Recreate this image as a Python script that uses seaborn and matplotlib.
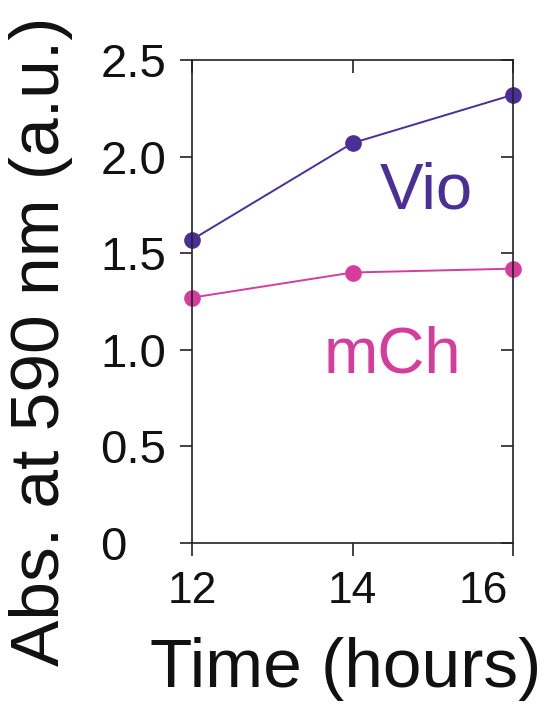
import matplotlib
matplotlib.use("Agg")
import matplotlib.pyplot as plt
import matplotlib.transforms as mtransforms
import seaborn as sns
import pandas as pd

hours = [12, 14, 16]
vio = [1.57, 2.07, 2.32]
mch = [1.27, 1.40, 1.42]
series_names = ["Vio", "mCh"]
yticks = [0, 0.5, 1.0, 1.5, 2.0, 2.5]
ytick_labels = ["0", "0.5", "1.0", "1.5", "2.0", "2.5"]
xticks = [12, 14, 16]

df = pd.DataFrame({
    "hours": hours * 2,
    "abs": vio + mch,
    "series": [series_names[0]] * 3 + [series_names[1]] * 3,
})

sns.set_style("white")
plt.rcParams["font.family"] = ["Liberation Sans", "DejaVu Sans"]

colors = {"Vio": "#4a2f96", "mCh": "#d53d9c"}

fig = plt.figure(figsize=(5.47, 7.04), dpi=100)
ax = fig.add_axes([0.351, 0.2287, 0.587, 0.6861])

sns.lineplot(data=df, x="hours", y="abs", hue="series", palette=colors,
             marker="o", markersize=12, markeredgewidth=0, linewidth=1.4,
             legend=False, ax=ax, clip_on=False)

ax.set_xlim(12, 16)
ax.set_ylim(0, 2.5)
ax.set_xticks(xticks)
ax.set_xticklabels([str(x) for x in xticks])
ax.set_yticks(yticks)
ax.set_yticklabels(ytick_labels)

for s in ax.spines.values():
    s.set_visible(True)
    s.set_color("#222222")
    s.set_linewidth(1.2)

ax.tick_params(axis="both", which="major", direction="out", length=9,
               width=1.2, color="#222222", labelcolor="#111111",
               left=True, bottom=True, top=True, right=True)
ax.tick_params(axis="x", pad=11, labelsize=32)
ax.tick_params(axis="y", pad=57, labelsize=34)
# mirrored ticks on top/right point inward
for t in ax.xaxis.get_major_ticks():
    t.tick2line.set_marker(matplotlib.lines.TICKDOWN)
for t in ax.yaxis.get_major_ticks():
    t.tick2line.set_marker(matplotlib.lines.TICKLEFT)
for lab in ax.get_yticklabels():
    lab.set_horizontalalignment("left")
last = ax.get_xticklabels()[-1]
last.set_transform(last.get_transform() +
                   mtransforms.ScaledTranslation(-0.30, 0, fig.dpi_scale_trans))

ax.set_xlabel("Time (hours)", fontsize=50, color="#111111", labelpad=0)
ax.xaxis.set_label_coords(0.48, -0.195)
ax.set_ylabel("Abs. at 590 nm (a.u.)", fontsize=50, color="#111111")
ax.yaxis.set_label_coords(-0.37, 0.417)

ax.text(14.92, 1.82, "Vio", color=colors["Vio"], fontsize=47, ha="center", va="center")
ax.text(14.50, 0.97, "mCh", color=colors["mCh"], fontsize=47, ha="center", va="center")

fig.savefig("out.png", dpi=100)
